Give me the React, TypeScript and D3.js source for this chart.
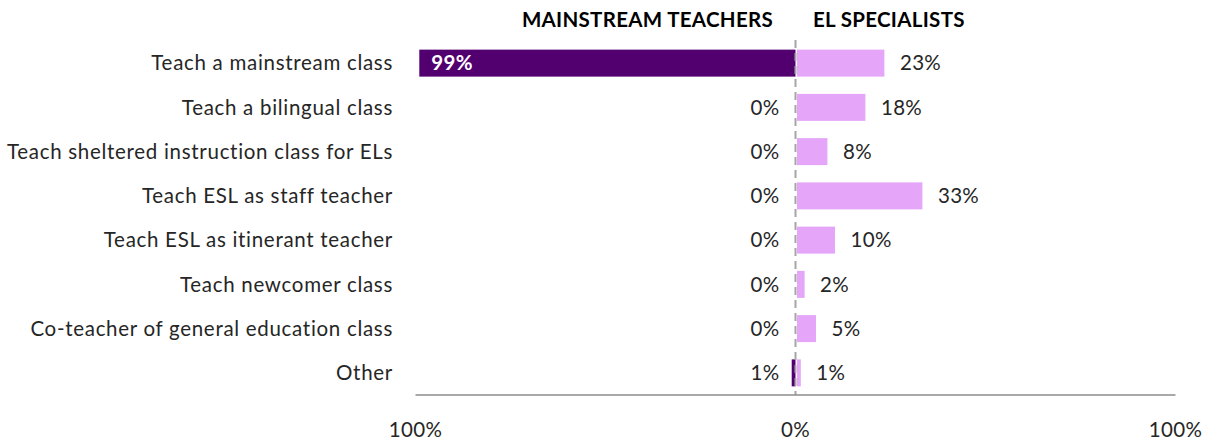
import { useEffect, useRef } from 'react';
import * as d3 from 'd3';

const categories = [
  'Teach a mainstream class',
  'Teach a bilingual class',
  'Teach sheltered instruction class for ELs',
  'Teach ESL as staff teacher',
  'Teach ESL as itinerant teacher',
  'Teach newcomer class',
  'Co-teacher of general education class',
  'Other',
];
const mainstream = [99, 0, 0, 0, 0, 0, 0, 1];
const specialists = [23, 18, 8, 33, 10, 2, 5, 1];
const tickLabels = ['100%', '0%', '100%'];

const App = () => {
  const svgRef = useRef<SVGSVGElement>(null);

  useEffect(() => {
    if (!svgRef.current) return;
    const svg = d3.select(svgRef.current);
    svg.selectAll('*').remove();

    const width = 1211;
    const height = 441;
    const center = 795.5;
    const half = 380;
    const font = 'Lato, "Open Sans", sans-serif';
    const fs = 20.5;
    const ls = '0.35px';
    const dark = '#520070';
    const pink = '#e5a5f9';
    const textColor = '#262626';

    const xLeft = d3.scaleLinear().domain([0, 100]).range([center, center - half]);
    const xRight = d3.scaleLinear().domain([0, 100]).range([center, center + half]);

    const y = d3.scaleBand()
      .domain(categories)
      .range([41, 395])
      .paddingInner(0.39)
      .paddingOuter(0.195);

    svg.attr('width', width).attr('height', height);

    // Headers
    svg.append('text')
      .attr('x', 773).attr('y', 27)
      .attr('text-anchor', 'end')
      .attr('font-family', font).attr('font-weight', 700).attr('font-size', 20.5)
      .attr('letter-spacing', '0.3px')
      .attr('fill', '#000')
      .text('MAINSTREAM TEACHERS');
    svg.append('text')
      .attr('x', 813).attr('y', 27)
      .attr('font-family', font).attr('font-weight', 700).attr('font-size', 20.5)
      .attr('letter-spacing', '0.3px')
      .attr('fill', '#000')
      .text('EL SPECIALISTS');

    // Category labels
    svg.append('g')
      .selectAll('text')
      .data(categories)
      .enter()
      .append('text')
      .attr('x', 393)
      .attr('y', d => (y(d) as number) + y.bandwidth() / 2)
      .attr('dy', '0.35em')
      .attr('text-anchor', 'end')
      .attr('font-family', font).attr('font-size', fs)
      .attr('letter-spacing', '0.7px')
      .attr('fill', textColor)
      .text(d => d);

    // Left bars (mainstream)
    svg.append('g')
      .selectAll('rect')
      .data(mainstream)
      .enter()
      .append('rect')
      .attr('x', d => xLeft(d))
      .attr('y', (d, i) => y(categories[i]) as number)
      .attr('width', d => xLeft(0) - xLeft(d))
      .attr('height', y.bandwidth())
      .attr('fill', dark);

    // Right bars (specialists)
    svg.append('g')
      .selectAll('rect')
      .data(specialists)
      .enter()
      .append('rect')
      .attr('x', xRight(0) + 1.5)
      .attr('y', (d, i) => y(categories[i]) as number)
      .attr('width', d => xRight(d) - xRight(0))
      .attr('height', y.bandwidth())
      .attr('fill', pink);

    // Left labels
    svg.append('g')
      .selectAll('text')
      .data(mainstream)
      .enter()
      .append('text')
      .attr('x', d => (d > 50 ? xLeft(d) + 12 : center - 16))
      .attr('y', (d, i) => (y(categories[i]) as number) + y.bandwidth() / 2)
      .attr('dy', '0.35em')
      .attr('text-anchor', d => (d > 50 ? 'start' : 'end'))
      .attr('font-family', font).attr('font-size', fs)
      .attr('letter-spacing', ls)
      .attr('font-weight', d => (d > 50 ? 700 : 400))
      .attr('fill', d => (d > 50 ? '#fff' : textColor))
      .text(d => `${d}%`);

    // Right labels
    svg.append('g')
      .selectAll('text')
      .data(specialists)
      .enter()
      .append('text')
      .attr('x', d => xRight(d) + 17)
      .attr('y', (d, i) => (y(categories[i]) as number) + y.bandwidth() / 2)
      .attr('dy', '0.35em')
      .attr('font-family', font).attr('font-size', fs)
      .attr('letter-spacing', ls)
      .attr('fill', textColor)
      .text(d => `${d}%`);

    // Center dashed line
    svg.append('line')
      .attr('x1', center).attr('x2', center)
      .attr('y1', 40).attr('y2', 395)
      .attr('stroke', '#a6a6a6')
      .attr('stroke-width', 2)
      .attr('stroke-dasharray', '8,5');

    // Bottom axis line
    svg.append('line')
      .attr('x1', xLeft(100)).attr('x2', xRight(100))
      .attr('y1', 395).attr('y2', 395)
      .attr('stroke', '#8c8c8c')
      .attr('stroke-width', 1.5);

    // Tick labels
    const tickPos = [xLeft(100), center, xRight(100)];
    svg.append('g')
      .selectAll('text')
      .data(tickLabels)
      .enter()
      .append('text')
      .attr('x', (d, i) => tickPos[i])
      .attr('y', 437)
      .attr('text-anchor', 'middle')
      .attr('font-family', font).attr('font-size', fs)
      .attr('letter-spacing', ls)
      .attr('fill', textColor)
      .text(d => d);
  }, []);

  return (
    <div style={{ position: 'absolute', left: 0, top: 0 }}>
      <svg ref={svgRef} style={{ display: 'block' }} />
    </div>
  );
};

export default App;
